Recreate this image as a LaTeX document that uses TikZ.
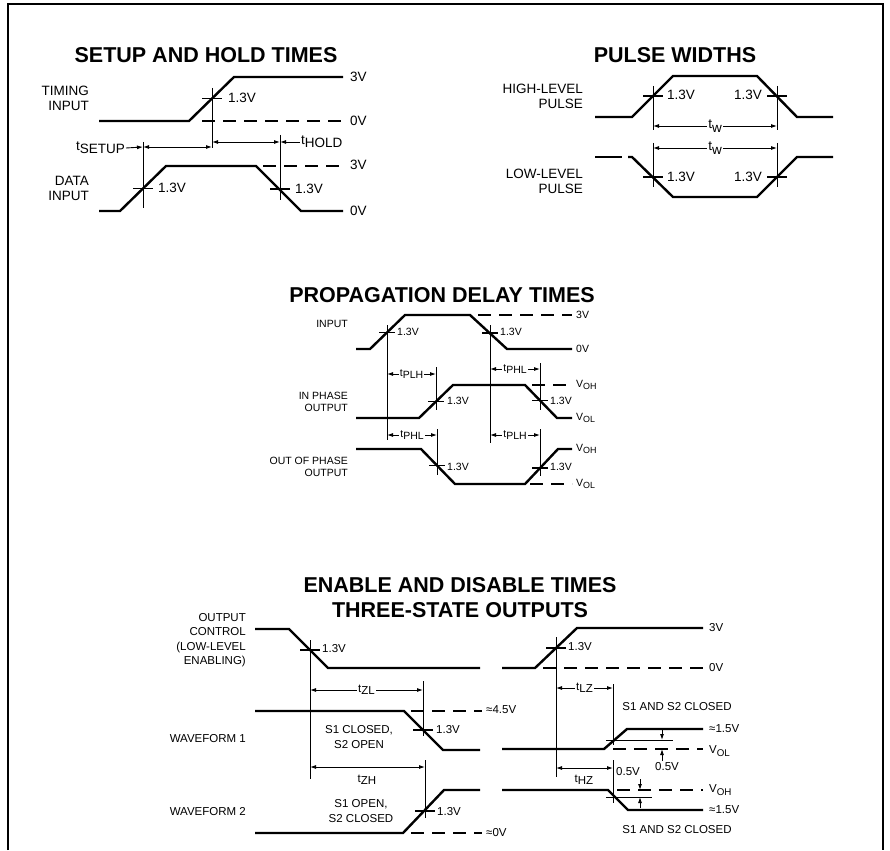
\documentclass[tikz,border=0pt]{standalone}
\usepackage{fontspec}
\setmainfont{Liberation Sans}
\usetikzlibrary{arrows.meta}
\tikzstyle{wave}=[line width=2.4pt]
\tikzstyle{guide}=[line width=0.9pt]
\tikzstyle{lvl}=[line width=1.6pt,dash pattern=on 13pt off 8pt]
\tikzstyle{tickmark}=[line width=1.5pt]
\tikzstyle{span}=[line width=0.9pt,{Latex[length=6pt,width=4pt]}-{Latex[length=6pt,width=4pt]}]
\tikzstyle{ptr}=[line width=0.9pt,-{Latex[length=6pt,width=4pt]}]
\newcommand{\tlab}[1]{t\raisebox{-0.4ex}{#1}}
\newcommand{\vlab}[1]{V\raisebox{-0.5ex}{\scalebox{0.85}{#1}}}

\begin{document}
\begin{tikzpicture}[x=1pt,y=-1pt]
    \tikzstyle{txtbig}=[font=\fontsize{13.5}{15}\selectfont,inner sep=1pt]
    \tikzstyle{txtmid}=[font=\fontsize{11.5}{14.5}\selectfont,inner sep=1pt]
    \tikzstyle{txtsmall}=[font=\fontsize{10.5}{12}\selectfont,inner sep=1pt]
    \tikzstyle{heading}=[font=\fontsize{21.5}{25}\selectfont\bfseries,inner sep=0pt]
    \useasboundingbox (0,0) rectangle (890,850);
    \draw[line width=1.6pt] (8,850) -- (8,4) -- (883,4) -- (883,850);

    % setup and hold times
    \node[heading] (setupT) at (206,55) {SETUP AND HOLD TIMES};
    \node[txtbig,anchor=east,align=right] (timIn) at (90,98) {TIMING\\INPUT};
    \node[txtbig,anchor=east,align=right] (datIn) at (90,188) {DATA\\INPUT};
    \draw[wave] (99,121) -- (189,121) -- (234,77) -- (343,77);
    \draw[lvl] (202,121) -- (343,121);
    \draw[wave] (99,211) -- (120,211) -- (166,166) -- (256,166) -- (301,211) -- (343,211);
    \draw[lvl] (263,166) -- (343,166);
    \coordinate (ti) at (212,98.5);
    \coordinate (dr) at (143,188.5);
    \coordinate (df) at (280,189);
    \draw[guide] (212,88) -- (212,148);
    \draw[guide] (143,142) -- (143,208);
    \draw[guide] (280,135) -- (280,200);
    \foreach \p in {ti,dr,df}
        \draw[tickmark] ([xshift=-10pt]\p) -- ([xshift=10pt]\p);
    \coordinate (su1) at (143,147);
    \coordinate (su2) at (212,147);
    \coordinate (ho1) at (212,142);
    \coordinate (ho2) at (280,142);
    \draw[span] (su1) -- (su2);
    \draw[span] (ho1) -- (ho2);
    \node[txtbig,anchor=east] (tSetup) at (126,148) {\tlab{SETUP}};
    \node[txtbig,anchor=west] (tHold) at (300,142) {\tlab{HOLD}};
    \draw[ptr] (tSetup.east) -- (su1);
    \draw[ptr] (tHold.west) -- (ho2);
    \node[txtbig,anchor=west] (vTi) at (227,98) {1.3V};
    \node[txtbig,anchor=west] (vDr) at (157,188) {1.3V};
    \node[txtbig,anchor=west] (vDf) at (294,189) {1.3V};
    \node[txtbig,anchor=west] (s3a) at (349,77) {3V};
    \node[txtbig,anchor=west] (s0a) at (349,121) {0V};
    \node[txtbig,anchor=west] (s3b) at (349,165) {3V};
    \node[txtbig,anchor=west] (s0b) at (349,211) {0V};

    % pulse widths
    \node[heading] (pulseT) at (675,55) {PULSE WIDTHS};
    \node[txtbig,anchor=east,align=right] (hiP) at (584,96) {HIGH-LEVEL\\PULSE};
    \node[txtbig,anchor=east,align=right] (loP) at (584,181) {LOW-LEVEL\\PULSE};
    \draw[wave] (595,117) -- (632,117) -- (673,76) -- (757,76) -- (797,117) -- (833,117);
    \draw[wave] (595,157) -- (622,157);
    \draw[wave] (628,157) -- (632,157) -- (673,197) -- (757,197) -- (797,157) -- (833,157);
    \coordinate (hp1) at (653,96);
    \coordinate (hp2) at (777,96);
    \coordinate (lp1) at (653,177);
    \coordinate (lp2) at (777,177);
    \draw[guide] (653,86) -- (653,130);
    \draw[guide] (777,86) -- (777,130);
    \draw[guide] (653,143) -- (653,187);
    \draw[guide] (777,143) -- (777,187);
    \foreach \p in {hp1,hp2,lp1,lp2}
        \draw[tickmark] ([xshift=-10pt]\p) -- ([xshift=10pt]\p);
    \coordinate (w1a) at (653,126);
    \coordinate (w1b) at (777,126);
    \coordinate (w2a) at (653,148);
    \coordinate (w2b) at (777,148);
    \draw[span] (w1a) -- node[txtbig,fill=white] (tw1) {t\raisebox{-0.6ex}{w}} (w1b);
    \draw[span] (w2a) -- node[txtbig,fill=white] (tw2) {t\raisebox{-0.6ex}{w}} (w2b);
    \node[txtbig,anchor=west] (vH1) at (666,95) {1.3V};
    \node[txtbig,anchor=east] (vH2) at (763,95) {1.3V};
    \node[txtbig,anchor=west] (vL1) at (666,177) {1.3V};
    \node[txtbig,anchor=east] (vL2) at (763,177) {1.3V};

    % propagation delay times
    \node[heading] (propT) at (442,295) {PROPAGATION DELAY TIMES};
    \node[txtsmall,anchor=east] (pIn) at (349,324) {INPUT};
    \node[txtsmall,anchor=east,align=right] (pInP) at (349,402) {IN PHASE\\OUTPUT};
    \node[txtsmall,anchor=east,align=right] (pOutP) at (349,467) {OUT OF PHASE\\OUTPUT};
    \draw[wave] (356,349) -- (370,349) -- (405,315) -- (470,315) -- (507,349) -- (572,349);
    \draw[lvl] (478,315) -- (572,315);
    \draw[wave] (356,418) -- (419,418) -- (453,385) -- (525,385) -- (557,418) -- (572,418);
    \draw[lvl] (532,385) -- (572,385);
    \draw[wave] (356,449) -- (421,449) -- (455,484) -- (525,484) -- (558,449) -- (572,449);
    \draw[lvl] (530,484) -- (572,484);
    \coordinate (pr) at (387,332.5);
    \coordinate (pf) at (490,333);
    \coordinate (ir) at (436,401.5);
    \coordinate (if) at (540,400.5);
    \coordinate (of) at (437,465.5);
    \coordinate (or) at (540,468);
    \draw[guide] (387,325) -- (387,440);
    \draw[guide] (490,325) -- (490,443);
    \draw[guide] (436,367) -- (436,410);
    \draw[guide] (540,363) -- (540,410);
    \draw[guide] (437,429) -- (437,475);
    \draw[guide] (540,429) -- (540,476);
    \foreach \p in {pr,pf,ir,if,of,or}
        \draw[tickmark] ([xshift=-8pt]\p) -- ([xshift=8pt]\p);
    \draw[span] (387,374) -- node[txtsmall,fill=white] (tplh1) {\tlab{PLH}} (436,374);
    \draw[span] (490,369) -- node[txtsmall,fill=white] (tphl1) {\tlab{PHL}} (540,369);
    \draw[span] (387,435) -- node[txtsmall,fill=white] (tphl2) {\tlab{PHL}} (437,435);
    \draw[span] (490,435) -- node[txtsmall,fill=white] (tplh2) {\tlab{PLH}} (540,435);
    \node[txtsmall,anchor=west] (vPr) at (396,332) {1.3V};
    \node[txtsmall,anchor=west] (vPf) at (499,332) {1.3V};
    \node[txtsmall,anchor=west] (vIr) at (446,401) {1.3V};
    \node[txtsmall,anchor=west] (vIf) at (549,401) {1.3V};
    \node[txtsmall,anchor=west] (vOf) at (446,467) {1.3V};
    \node[txtsmall,anchor=west] (vOr) at (549,467) {1.3V};
    \node[txtsmall,anchor=west] (p3) at (575,315) {3V};
    \node[txtsmall,anchor=west] (p0) at (575,349) {0V};
    \node[txtsmall,anchor=west] (pOH1) at (575,385) {\vlab{OH}};
    \node[txtsmall,anchor=west] (pOL1) at (575,418) {\vlab{OL}};
    \node[txtsmall,anchor=west] (pOH2) at (575,449) {\vlab{OH}};
    \node[txtsmall,anchor=west] (pOL2) at (575,484) {\vlab{OL}};

    % enable and disable times
    \node[heading] (enT1) at (460,585) {ENABLE AND DISABLE TIMES};
    \node[heading] (enT2) at (460,610) {THREE-STATE OUTPUTS};
    \node[txtmid,anchor=east,align=right] (oc) at (247,640) {OUTPUT\\CONTROL\\(LOW-LEVEL\\ENABLING)};
    \node[txtmid,anchor=east] (wf1) at (247,739) {WAVEFORM 1};
    \node[txtmid,anchor=east] (wf2) at (247,812) {WAVEFORM 2};
    \draw[wave] (255,629) -- (289,629) -- (328,668) -- (480,668);
    \draw[wave] (502,668) -- (535,668) -- (577,628) -- (703,628);
    \draw[lvl] (543,668) -- (703,668);
    \draw[wave] (255,711) -- (404,711) -- (443,750) -- (480,750);
    \draw[lvl] (411,711) -- (482,711);
    \draw[wave] (255,833) -- (403,833) -- (444,790) -- (480,790);
    \draw[lvl] (411,833) -- (482,833);
    \draw[wave] (502,749) -- (604,749) -- (627,729) -- (703,729);
    \draw[lvl] (613,749) -- (703,749);
    \draw[guide] (606,740) -- (673,740);
    \draw[wave] (502,790) -- (608,790) -- (628,810) -- (703,810);
    \draw[lvl] (617,790) -- (703,790);
    \draw[guide] (606,797) -- (652,797);
    \coordinate (cf) at (310,650);
    \coordinate (cr) at (556,648);
    \coordinate (w1f) at (423,730);
    \coordinate (w2r) at (425,811);
    \draw[guide] (310,640) -- (310,779);
    \draw[guide] (423,681) -- (423,736);
    \draw[guide] (425,760) -- (425,818);
    \draw[guide] (556,637) -- (556,777);
    \draw[guide] (613,684) -- (613,745);
    \draw[guide] (613,760) -- (613,803);
    \foreach \p in {cf,cr,w1f,w2r}
        \draw[tickmark] ([xshift=-10pt]\p) -- ([xshift=10pt]\p);
    \draw[span] (310,690) -- node[txtmid,fill=white] (tzl) {\tlab{ZL}} (423,690);
    \draw[span] (310,767) -- (425,767);
    \node[txtmid] (tzh) at (367,780) {\tlab{ZH}};
    \draw[span] (556,688) -- node[txtmid,fill=white] (tlz) {\tlab{LZ}} (613,688);
    \draw[span] (556,768) -- (613,768);
    \node[txtmid] (thz) at (584,780) {\tlab{HZ}};
    \draw[ptr] (662,729) -- (662,740);
    \draw[ptr] (662,761) -- (662,749);
    \draw[ptr] (640,779) -- (640,790);
    \draw[ptr] (640,808) -- (640,797);
    \node[txtmid] (hv1) at (667,767) {0.5V};
    \node[txtmid] (hv2) at (628,772) {0.5V};
    \node[txtmid,anchor=west] (vCf) at (321,649) {1.3V};
    \node[txtmid,anchor=west] (vCr) at (567,647) {1.3V};
    \node[txtmid,anchor=west] (vW1) at (435,730) {1.3V};
    \node[txtmid,anchor=west] (vW2) at (436,812) {1.3V};
    \node[txtmid,align=center] (s1c) at (359,737) {S1 CLOSED,\\S2 OPEN};
    \node[txtmid,align=center] (s1o) at (361,811) {S1 OPEN,\\S2 CLOSED};
    \node[txtmid] (sc1) at (677,707) {S1 AND S2 CLOSED};
    \node[txtmid] (sc2) at (677,830) {S1 AND S2 CLOSED};
    \node[txtmid,anchor=west] (e45) at (485,710) {≈4.5V};
    \node[txtmid,anchor=west] (e0) at (485,833) {≈0V};
    \node[txtmid,anchor=west] (e3) at (708,628) {3V};
    \node[txtmid,anchor=west] (e0b) at (708,668) {0V};
    \node[txtmid,anchor=west] (e15a) at (708,729) {≈1.5V};
    \node[txtmid,anchor=west] (eOL) at (708,751) {\vlab{OL}};
    \node[txtmid,anchor=west] (eOH) at (708,790) {\vlab{OH}};
    \node[txtmid,anchor=west] (e15b) at (708,810) {≈1.5V};
\end{tikzpicture}
\end{document}
